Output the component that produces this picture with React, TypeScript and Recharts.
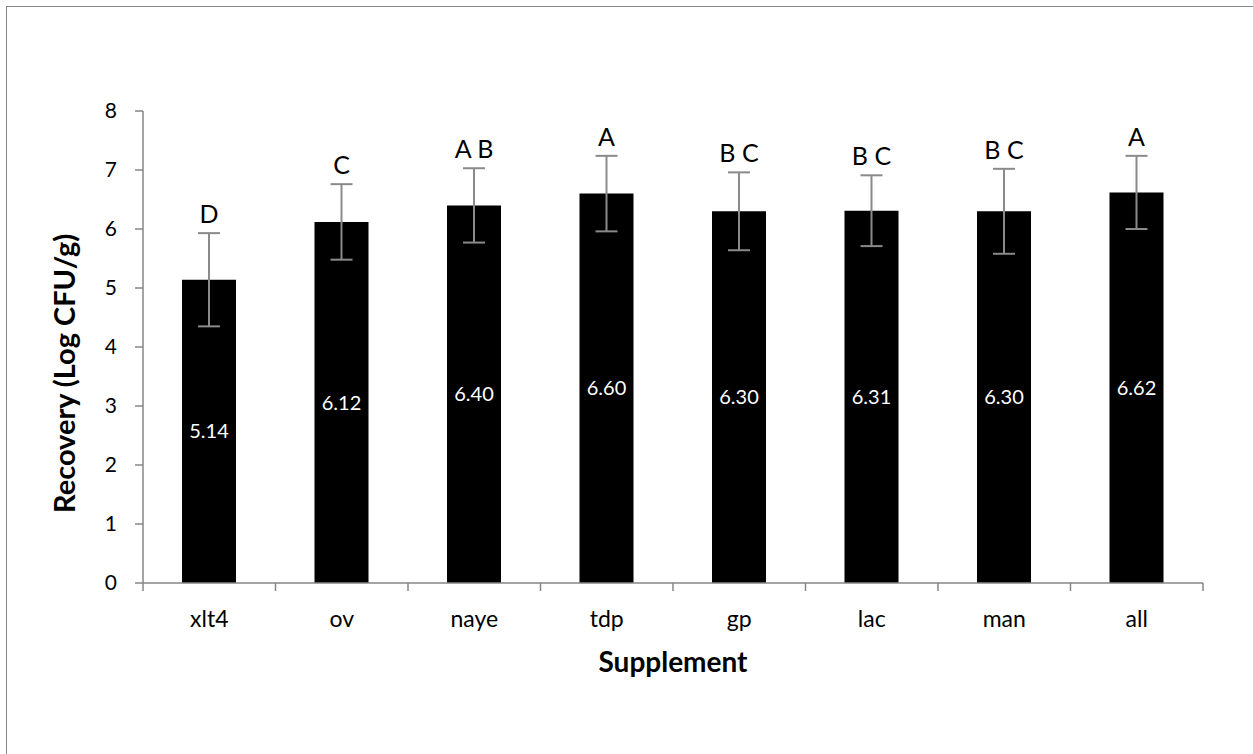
// Recovery by supplement — black bars with SD error bars and letter groups.

import { BarChart, Bar, XAxis, YAxis, ErrorBar, LabelList } from 'recharts'

const categories = ['xlt4', 'ov', 'naye', 'tdp', 'gp', 'lac', 'man', 'all']
const recovery = [5.14, 6.12, 6.4, 6.6, 6.3, 6.31, 6.3, 6.62]
const errors = [0.79, 0.64, 0.63, 0.64, 0.66, 0.6, 0.72, 0.62]
const groups = ['D', 'C', 'A B', 'A', 'B C', 'B C', 'B C', 'A']
const yTicks = [0, 1, 2, 3, 4, 5, 6, 7, 8]

const data = categories.map((name, i) => ({
  name,
  value: recovery[i],
  err: errors[i],
  group: groups[i],
}))

const W = 1253
const H = 754
const PLOT_LEFT = 143
const PLOT_RIGHT = 1203
const BAND = (PLOT_RIGHT - PLOT_LEFT) / categories.length
const FONT = 'Lato, "Open Sans", sans-serif'
const AXIS = '#868686'

function CategoryTick(props: any) {
  const { x, y, payload, index } = props
  const last = index === categories.length - 1
  return (
    <g>
      <line x1={x - BAND / 2} x2={x - BAND / 2} y1={y} y2={y + 8} stroke={AXIS} strokeWidth={1.5} />
      {last && (
        <line x1={x + BAND / 2} x2={x + BAND / 2} y1={y} y2={y + 8} stroke={AXIS} strokeWidth={1.5} />
      )}
      <text x={x} y={y + 44} textAnchor="middle" fontSize={23} fontFamily={FONT} fill="#000">
        {payload.value}
      </text>
    </g>
  )
}

function GroupLabel(props: any) {
  const { x, y, width, height, index } = props
  const perUnit = height / recovery[index]
  const top = y - errors[index] * perUnit
  return (
    <text
      x={x + width / 2}
      y={top - 10}
      textAnchor="middle"
      fontSize={25}
      fontFamily={FONT}
      fill="#000"
    >
      {groups[index]}
    </text>
  )
}

export default function App() {
  return (
    <div
      style={{
        position: 'fixed',
        left: 0,
        top: 0,
        width: W,
        height: H,
        overflow: 'hidden',
        background: '#fff',
      }}
    >
      <div
        style={{
          position: 'absolute',
          left: 6,
          top: 6,
          width: W,
          height: H,
          border: `1.5px solid ${AXIS}`,
          boxSizing: 'border-box',
        }}
      />
      <div style={{ position: 'absolute', left: 0, top: 0 }}>
        <BarChart
          width={W}
          height={H}
          data={data}
          margin={{ top: 111, right: W - PLOT_RIGHT, bottom: 0, left: 0 }}
        >
          <XAxis
            dataKey="name"
            height={171}
            axisLine={{ stroke: AXIS, strokeWidth: 1.5 }}
            tickLine={false}
            tickSize={0}
            tickMargin={0}
            tick={<CategoryTick />}
            interval={0}
            label={{
              content: (p: any) => {
                const vb = p.viewBox
                return (
                  <text
                    x={vb.x + vb.width / 2}
                    y={vb.y + 89}
                    textAnchor="middle"
                    fontSize={28}
                    fontWeight="bold"
                    fontFamily={FONT}
                    fill="#000"
                  >
                    Supplement
                  </text>
                )
              },
            }}
          />
          <YAxis
            width={PLOT_LEFT}
            domain={[0, 8]}
            ticks={yTicks}
            interval={0}
            axisLine={{ stroke: AXIS, strokeWidth: 1.5 }}
            tickLine={{ stroke: AXIS, strokeWidth: 1.5 }}
            tickSize={8}
            tickMargin={18}
            tick={{ fontSize: 21, fontFamily: FONT, fill: '#000' }}
            label={{
              content: (p: any) => {
                const vb = p.viewBox
                const cx = 63
                const cy = vb.y + vb.height - 70
                return (
                  <text
                    x={cx}
                    y={cy}
                    transform={`rotate(-90 ${cx} ${cy})`}
                    textAnchor="start"
                    dominantBaseline="central"
                    fontSize={29}
                    fontWeight="bold"
                    fontFamily={FONT}
                    fill="#000"
                  >
                    Recovery (Log CFU/g)
                  </text>
                )
              },
            }}
          />
          <Bar dataKey="value" fill="#000" barSize={54} isAnimationActive={false}>
            <ErrorBar
              dataKey="err"
              direction="y"
              width={11}
              stroke="#8a8a8a"
              strokeWidth={2}
            />
            <LabelList
              dataKey="value"
              position="center"
              fill="#fff"
              fontSize={20}
              fontFamily={FONT}
              formatter={(v: any) => Number(v).toFixed(2)}
            />
            <LabelList dataKey="group" content={<GroupLabel />} />
          </Bar>
        </BarChart>
      </div>
    </div>
  )
}
